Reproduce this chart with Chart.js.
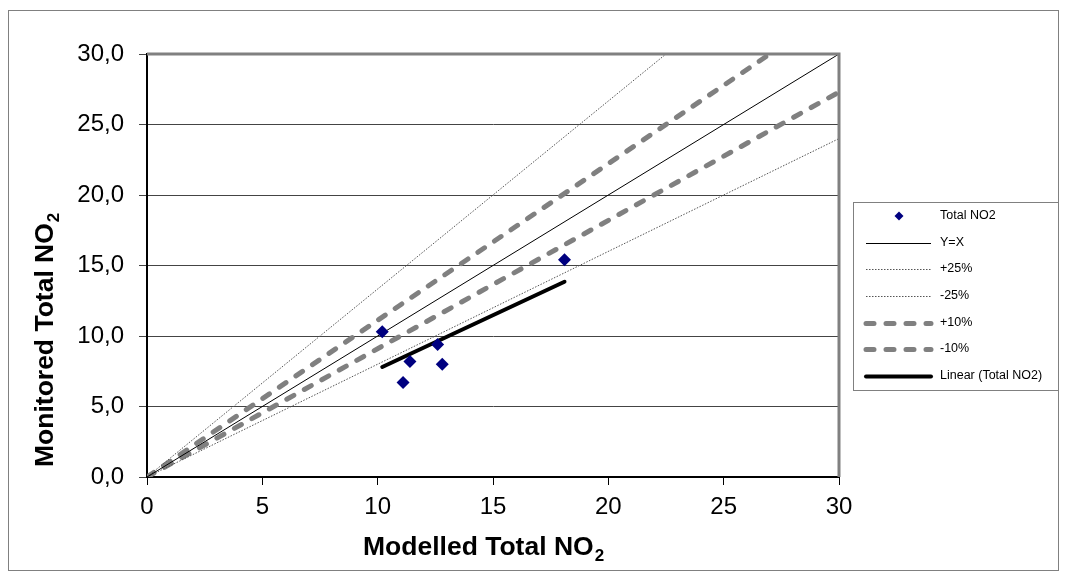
<!DOCTYPE html>
<html>
<head>
<meta charset="utf-8">
<script src="https://cdn.jsdelivr.net/npm/chart.js@4/dist/chart.umd.min.js"></script>
<style>
  body { margin: 0; background: #fff; }
  canvas { display: block; }
</style>
</head>
<body>
<canvas id="chartNO2" width="1066" height="578"></canvas>
<script>
// measured points
const modelled = [10.2, 11.4, 11.1, 12.6, 12.8, 18.1];
const monitored = [10.3, 8.2, 6.7, 9.4, 8.0, 15.4];

// reference lines (end points)
const lineYX = [[0, 0], [30, 30]];
const linePlus25 = [[0, 0], [22.5, 30]];
const lineMin25 = [[0, 0], [30, 24]];
const linePlus10 = [[0, 0], [27, 30]];
const lineMin10 = [[0, 0], [30, 27.3]];

// trendline
const trendX = [10.2, 18.1];
const trendY = [7.8, 13.85];

const labelSeri = ["Total NO2", "Y=X", "+25%", "-25%", "+10%", "-10%", "Linear (Total NO2)"];
const tickX = [0, 5, 10, 15, 20, 25, 30];
const tickY = [0, 5, 10, 15, 20, 25, 30];

const toXY = arr => arr.map(p => ({ x: p[0], y: p[1] }));

const pointsNO2 = modelled.map((m, i) => ({ x: m, y: monitored[i] }));
const pointsTrend = trendX.map((t, i) => ({ x: t, y: trendY[i] }));

const lineBase = { showLine: true, pointRadius: 0, pointHoverRadius: 0, fill: false, tension: 0 };

const datasets = [
    { label: labelSeri[0], data: pointsNO2, pointStyle: "rectRot", pointRadius: 6.5, backgroundColor: "#000080", borderColor: "#000080", borderWidth: 0, showLine: false },
    Object.assign({ label: labelSeri[1], data: toXY(lineYX), borderColor: "#000", borderWidth: 1 }, lineBase),
    Object.assign({ label: labelSeri[2], data: toXY(linePlus25), borderColor: "#555", borderWidth: 1, borderDash: [1.5, 1.5] }, lineBase),
    Object.assign({ label: labelSeri[3], data: toXY(lineMin25), borderColor: "#555", borderWidth: 1, borderDash: [1.5, 1.5] }, lineBase),
    Object.assign({ label: labelSeri[4], data: toXY(linePlus10), borderColor: "#808080", borderWidth: 5, borderDash: [8, 12], borderCapStyle: "round" }, lineBase),
    Object.assign({ label: labelSeri[5], data: toXY(lineMin10), borderColor: "#808080", borderWidth: 5, borderDash: [8, 12], borderCapStyle: "round" }, lineBase),
    Object.assign({ label: labelSeri[6], data: pointsTrend, borderColor: "#000", borderWidth: 4, borderCapStyle: "round" }, lineBase)
];

// frame, plot border, titles with subscript, legend box
const decorPlugin = {
    id: "decor",
    beforeDraw(chart) {
        const ctx = chart.ctx;
        ctx.save();
        ctx.fillStyle = "#fff";
        ctx.fillRect(0, 0, chart.width, chart.height);
        ctx.strokeStyle = "#808080";
        ctx.lineWidth = 1;
        ctx.strokeRect(8.5, 10.5, 1050, 560);
        ctx.restore();
    },
    afterDraw(chart) {
        const ctx = chart.ctx;
        const a = chart.chartArea;
        ctx.save();
        // top + right gray border
        ctx.strokeStyle = "#808080";
        ctx.lineWidth = 3;
        ctx.beginPath();
        ctx.moveTo(a.left, a.top);
        ctx.lineTo(a.right, a.top);
        ctx.lineTo(a.right, a.bottom);
        ctx.stroke();

        // axis titles
        ctx.fillStyle = "#000";
        ctx.textBaseline = "alphabetic";
        ctx.textAlign = "left";
        const drawSub = (main, sub) => {
            ctx.font = "bold 26.5px 'Liberation Sans', Arial, sans-serif";
            ctx.fillText(main, 0, 0);
            const w = ctx.measureText(main).width;
            ctx.font = "bold 17px 'Liberation Sans', Arial, sans-serif";
            ctx.fillText(sub, w + 1, 6);
        };
        ctx.save();
        ctx.translate(363, 555);
        drawSub("Modelled Total NO", "2");
        ctx.restore();
        ctx.save();
        ctx.translate(53, 467);
        ctx.rotate(-Math.PI / 2);
        drawSub("Monitored Total NO", "2");
        ctx.restore();

        // legend
        ctx.strokeStyle = "#808080";
        ctx.lineWidth = 1;
        ctx.strokeRect(853.5, 202.5, 205, 188);
        const ys = [216, 243, 269, 296, 323, 349, 376];
        ctx.font = "12.5px 'Liberation Sans', Arial, sans-serif";
        ctx.textBaseline = "middle";
        chart.data.datasets.forEach((ds, i) => {
            const y = ys[i];
            if (ds.showLine === false) {
                ctx.fillStyle = ds.backgroundColor;
                ctx.beginPath();
                ctx.moveTo(899, y - 4.5);
                ctx.lineTo(903.5, y);
                ctx.lineTo(899, y + 4.5);
                ctx.lineTo(894.5, y);
                ctx.closePath();
                ctx.fill();
            } else {
                ctx.strokeStyle = ds.borderColor;
                ctx.lineWidth = ds.borderWidth;
                ctx.lineCap = ds.borderCapStyle || "butt";
                ctx.setLineDash(ds.borderDash || []);
                ctx.beginPath();
                ctx.moveTo(866, y + 0.5);
                ctx.lineTo(931, y + 0.5);
                ctx.stroke();
                ctx.setLineDash([]);
                ctx.lineCap = "butt";
            }
            ctx.fillStyle = "#000";
            ctx.fillText(ds.label, 940, y);
        });
        ctx.restore();
    }
};

new Chart(document.getElementById("chartNO2"), {
    type: "scatter",
    data: { datasets: datasets },
    options: {
        responsive: false,
        devicePixelRatio: 1,
        animation: false,
        layout: { padding: { left: 0, top: 54, right: 227, bottom: 0 } },
        plugins: { legend: { display: false }, tooltip: { enabled: false } },
        scales: {
            x: {
                type: "linear",
                min: 0, max: 30,
                afterFit: s => { s.height = 101; },
                afterBuildTicks: s => { s.ticks = tickX.map(v => ({ value: v })); },
                ticks: { color: "#000", padding: 8, font: { family: "'Liberation Sans', Arial, sans-serif", size: 24 }, callback: v => String(v) },
                grid: { drawOnChartArea: false, tickLength: 8, color: "#000", lineWidth: 1 },
                border: { color: "#000", width: 2 }
            },
            y: {
                type: "linear",
                min: 0, max: 30,
                afterFit: s => { s.width = 147; },
                afterBuildTicks: s => { s.ticks = tickY.map(v => ({ value: v })); },
                ticks: { color: "#000", padding: 15, font: { family: "'Liberation Sans', Arial, sans-serif", size: 24 }, callback: v => v.toFixed(1).replace(".", ",") },
                grid: { tickLength: 8, color: "#444", lineWidth: 1 },
                border: { color: "#000", width: 2 }
            }
        }
    },
    plugins: [decorPlugin]
});
</script>
</body>
</html>
